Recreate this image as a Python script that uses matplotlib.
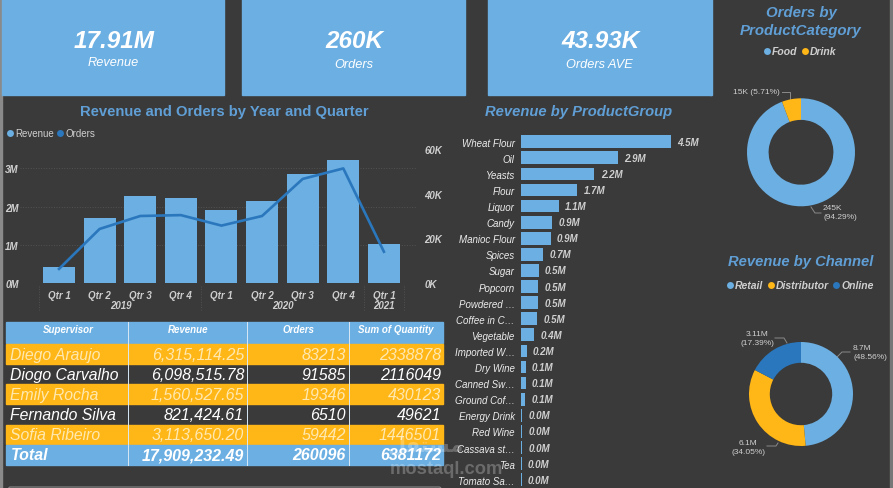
import matplotlib.pyplot as plt
from matplotlib.patches import Rectangle, FancyBboxPatch

plt.rcParams['font.family'] = ['Liberation Sans', 'DejaVu Sans']

# data
quarters = ['Qtr 1', 'Qtr 2', 'Qtr 3', 'Qtr 4', 'Qtr 1', 'Qtr 2', 'Qtr 3', 'Qtr 4', 'Qtr 1']
revenue_q = [0.43, 1.69, 2.27, 2.22, 1.92, 2.14, 2.86, 3.23, 1.03]
orders_q = [6.3, 24.2, 30.0, 30.4, 25.7, 30.0, 46.6, 51.3, 14.0]

groups = ['Wheat Flour', 'Oil', 'Yeasts', 'Flour', 'Liquor', 'Candy', 'Manioc Flour', 'Spices',
          'Sugar', 'Popcorn', 'Powdered …', 'Coffee in C…', 'Vegetable', 'Imported W…', 'Dry Wine',
          'Canned Sw…', 'Ground Cof…', 'Energy Drink', 'Red Wine', 'Cassava st…', 'Tea', 'Tomato Sa…']
group_rev = [4.5, 2.9, 2.2, 1.68, 1.14, 0.93, 0.89, 0.66, 0.53, 0.52, 0.51, 0.48, 0.40, 0.17,
             0.14, 0.14, 0.13, 0.04, 0.04, 0.03, 0.02, 0.02]

category_vals = [245.25, 14.85]
channel_vals = [8.70, 6.10, 3.11]

table_head = ['Supervisor', 'Revenue', 'Orders', 'Sum of Quantity']
supervisors = ['Diego Araujo', 'Diogo Carvalho', 'Emily Rocha', 'Fernando Silva', 'Sofia Ribeiro']
sup_revenue = ['6,315,114.25', '6,098,515.78', '1,560,527.65', '821,424.61', '3,113,650.20']
sup_orders = ['83213', '91585', '19346', '6510', '59442']
sup_quantity = ['2338878', '2116049', '430123', '49621', '1446501']
table_total = ['Total', '17,909,232.49', '260096', '6381172']

card_values = ['17.91M', '260K', '43.93K']
card_labels = ['Revenue', 'Orders', 'Orders AVE']

# colours
BG = '#3a3a3a'
BLUE = '#6cafe2'
YELLOW = '#ffb617'
DARK = '#2a77bd'
TITLE = '#609fd6'
LIGHT = '#cfcfcf'
GRID = '#525252'

W, H = 893, 489


def box(left, top, right, bottom):
    # pixel box to figure fractions
    return [left / W, 1 - bottom / H, (right - left) / W, (bottom - top) / H]


fig = plt.figure(figsize=(W / 100, H / 100), dpi=100, facecolor=BG)

# full figure layer in pixels, for cards, table and labels
bg = fig.add_axes([0, 0, 1, 1], zorder=0)
bg.set_xlim(0, W)
bg.set_ylim(H, 0)
bg.axis('off')

bg.add_patch(Rectangle((0, 0), 2, H, color='#8a8a8a'))
bg.add_patch(Rectangle((890, 0), 3, H, color='#777777'))
bg.add_patch(Rectangle((710, 0), 2, 96, color=BLUE))

# cards
card_x = [(2, 224), (242, 465), (488, 711)]
label_y = [63, 65, 65]
for i in range(3):
    l, r = card_x[i]
    bg.add_patch(Rectangle((l, 0), r - l, 96, color=BLUE))
    bg.text((l + r) / 2 + 1, 41, card_values[i], color='white', fontsize=17.5, fontweight='bold',
            style='italic', ha='center', va='center')
    bg.text((l + r) / 2, label_y[i], card_labels[i], color='white', fontsize=9.2, style='italic',
            ha='center', va='center')

# titles
bg.text(224, 112, 'Revenue and Orders by Year and Quarter', color=TITLE, fontsize=10.6, fontweight='bold',
        ha='center', va='center')
bg.text(579, 112, 'Revenue by ProductGroup', color=TITLE, fontsize=10.6, fontweight='bold', style='italic',
        ha='center', va='center')
bg.text(801, 22, 'Orders by\nProductCategory', color=TITLE, fontsize=10.8, fontweight='bold', style='italic',
        ha='center', va='center', linespacing=1.3)
bg.text(801, 262, 'Revenue by Channel', color=TITLE, fontsize=10.6, fontweight='bold', style='italic',
        ha='center', va='center')


def legend_item(x, y, color, text, style='italic', weight='bold', size=7.5):
    bg.plot([x], [y], 'o', ms=5, color=color, mew=0)
    bg.text(x + 5, y, text, color=LIGHT, fontsize=size, style=style, fontweight=weight, va='center')


legend_item(10, 134, BLUE, 'Revenue', style='normal', weight='normal', size=7)
legend_item(60, 134, DARK, 'Orders', style='normal', weight='normal', size=7)
legend_item(767, 52, BLUE, 'Food')
legend_item(805, 52, YELLOW, 'Drink')
legend_item(730, 286, BLUE, 'Retail')
legend_item(771, 286, YELLOW, 'Distributor')
legend_item(836, 286, DARK, 'Online')

# revenue and orders combo
ax = fig.add_axes(box(20, 150, 416, 284), zorder=1)
ax.patch.set_alpha(0)
x = list(range(len(quarters)))
ax.bar(x, revenue_q, width=0.79, color=BLUE)
ax.set_xlim(-0.96, 8.79)
ax.set_ylim(0, 134 / 38.2)
ax.set_yticks([0, 1, 2, 3])
ax.set_yticklabels(['0M', '1M', '2M', '3M'])
ax.set_xticks(x)
ax.set_xticklabels(quarters)
ax.tick_params(axis='x', length=0, pad=5, colors=LIGHT, labelsize=7)
ax.tick_params(axis='y', length=0, pad=1, colors=LIGHT, labelsize=7)
ax.grid(axis='y', color=GRID, linestyle=':', linewidth=0.7)
ax.set_axisbelow(True)
for lab in ax.get_xticklabels() + ax.get_yticklabels():
    lab.set_fontweight('bold')
    lab.set_style('italic')
for s in ax.spines.values():
    s.set_visible(False)

ax2 = ax.twinx()
ax2.plot(x, orders_q, color=DARK, linewidth=1.9)
ax2.set_ylim(0, 60)
ax2.set_yticks([0, 20, 40, 60])
ax2.set_yticklabels(['0K', '20K', '40K', '60K'])
ax2.tick_params(axis='y', length=0, pad=6, colors=LIGHT, labelsize=7)
for lab in ax2.get_yticklabels():
    lab.set_fontweight('bold')
    lab.set_style('italic')
for s in ax2.spines.values():
    s.set_visible(False)

# year level of the x axis
for name, px in [('2019', 120.5), ('2020', 283), ('2021', 384)]:
    bg.text(px, 306, name, color=LIGHT, fontsize=7, fontweight='bold', style='italic', ha='center', va='center')
for px in [39, 201, 364, 404]:
    bg.plot([px, px], [287, 311], color=GRID, linestyle=':', linewidth=0.7)

# product group bars
ax3 = fig.add_axes(box(521, 134.65, 710, 488.75), zorder=1)
ax3.patch.set_alpha(0)
ypos = list(range(len(groups)))
bars = ax3.barh(ypos, group_rev, height=0.79, color=BLUE)
ax3.set_xlim(0, 189 / 33.4)
ax3.set_ylim(len(groups) - 0.5, -0.5)
ax3.set_yticks(ypos)
ax3.set_yticklabels(groups, color='#ececec', fontsize=7, style='italic')
ax3.set_xticks([])
ax3.tick_params(axis='y', length=0, pad=4.5)
ax3.bar_label(bars, labels=[f'{v:.1f}M' for v in group_rev], padding=4.5, color=LIGHT, fontsize=7,
              fontweight='bold', style='italic')
for s in ax3.spines.values():
    s.set_visible(False)

# donuts
ax4 = fig.add_axes(box(747, 99.3, 855, 207.3), zorder=1)
ax4.pie(category_vals, colors=[BLUE, YELLOW], startangle=90, counterclock=False, radius=1,
        wedgeprops={'width': 0.4})
ax4.set_xlim(-1, 1)
ax4.set_ylim(-1, 1)

ax5 = fig.add_axes(box(749, 343, 853, 447), zorder=1)
ax5.pie(channel_vals, colors=[BLUE, YELLOW, DARK], startangle=90, counterclock=False, radius=1,
        wedgeprops={'width': 0.4})
ax5.set_xlim(-1, 1)
ax5.set_ylim(-1, 1)

# donut labels with leaders
labels = [(756, 93, '15K (5.71%)', 'center'), (823, 213, '245K\n(94.29%)', 'left'),
          (853, 353, '8.7M\n(48.56%)', 'left'), (757, 339, '3.11M\n(17.39%)', 'center'),
          (748, 448, '6.1M\n(34.05%)', 'center')]
for lx, ly, txt, ha in labels:
    bg.text(lx, ly, txt, color=LIGHT, fontsize=6, ha=ha, va='center', linespacing=1.35)
leaders = [([782, 790, 790], [93, 93, 100]), ([811, 815, 821], [208, 214, 214]),
           ([837, 842, 850], [358, 353, 353]), ([775, 784, 787], [339, 339, 344]),
           ([767, 776, 778], [447, 447, 444])]
for lx, ly in leaders:
    bg.plot(lx, ly, color='#8a8a8a', linewidth=0.7)

# table
col_x = [6, 128, 247, 349, 443]
bg.add_patch(Rectangle((6, 323), 437, 21, color=BLUE))
head_x = [68, 188, 298, 396]
for i in range(4):
    bg.text(head_x[i], 330, table_head[i], color='white', fontsize=7, fontweight='bold', style='italic',
            ha='center', va='center')

row_h = 20.15
for i in range(5):
    top = 345 + i * row_h
    if i % 2 == 0:
        bg.add_patch(Rectangle((6, top), 437, row_h - 0.6, color=YELLOW, zorder=1))
    cy = top + row_h / 2
    c = '#ffe9b0' if i % 2 == 0 else 'white'
    bg.text(10, cy, supervisors[i], color=c, fontsize=11.3, style='italic', va='center')
    bg.text(244, cy, sup_revenue[i], color=c, fontsize=11.5, style='italic', va='center', ha='right')
    bg.text(346, cy, sup_orders[i], color=c, fontsize=11.5, style='italic', va='center', ha='right')
    bg.text(441, cy, sup_quantity[i], color=c, fontsize=11.5, style='italic', va='center', ha='right')

bg.add_patch(Rectangle((6, 446), 437, 20, color=BLUE))
total_x = [11, 244, 346, 441]
for i in range(4):
    bg.text(total_x[i], 456, table_total[i], color='white', fontsize=11.5, fontweight='bold', style='italic',
            va='center', ha='left' if i == 0 else 'right')
for px in col_x[1:4]:
    bg.plot([px, px], [323, 466], color='#d8e8f5', linewidth=0.7, zorder=2)

# slicer outline cut by the bottom edge
bg.add_patch(FancyBboxPatch((8, 488), 433, 8, boxstyle='round,pad=0,rounding_size=2', fc='none',
                            ec='#8a8a8a', lw=0.8))

# watermark, logo word in presentation forms since matplotlib does not shape arabic
fig.text(446 / W, 1 - 470 / H, 'mostaql.com', color='white', alpha=0.25, fontsize=13.2, fontweight='bold',
         ha='center', va='center', zorder=5)
fig.text(426 / W, 1 - 445 / H, '\ufede\ufed8\ufe98\ufeb4\ufee3', family='DejaVu Sans', color='white', alpha=0.25,
         fontsize=15, fontweight='bold', ha='center', va='center', zorder=5)

plt.savefig('out.png', dpi=100, facecolor=BG)
